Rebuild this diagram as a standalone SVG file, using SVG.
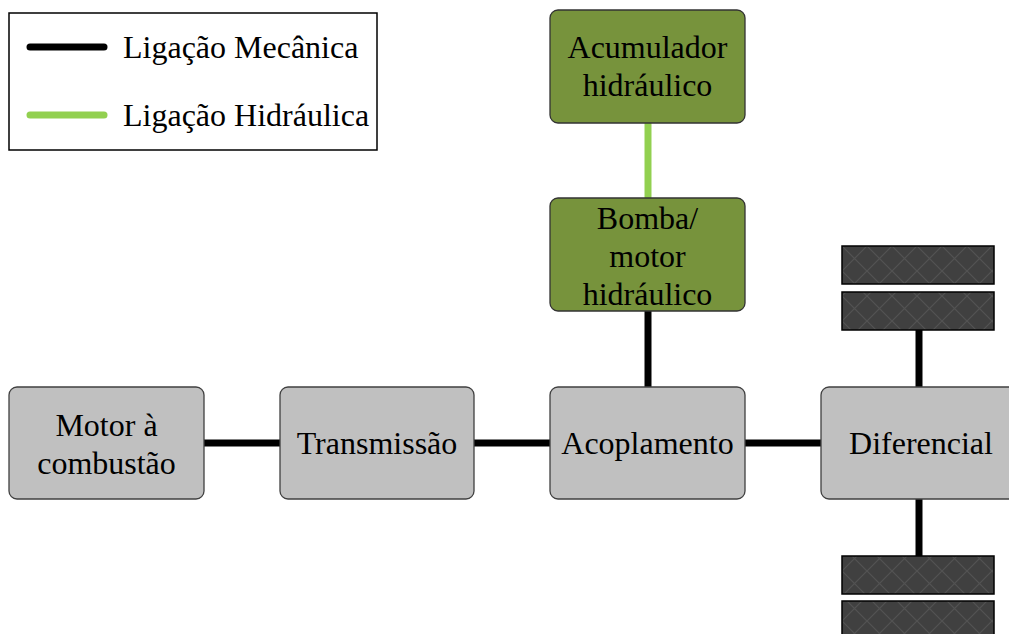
<svg xmlns="http://www.w3.org/2000/svg" width="1009" height="634" viewBox="0 0 1009 634">
<defs>
<pattern id="hatch" width="25" height="25" patternUnits="userSpaceOnUse" x="842" y="246">
<rect width="25" height="25" fill="#404040"/>
<path d="M0 0 L25 25 M25 0 L0 25" stroke="#525252" stroke-width="1.2"/>
</pattern>
</defs>
<style>
.box{fill:#C0C0C0;stroke:#404040;stroke-width:1.3}
.gbox{fill:#77933C;stroke:#333;stroke-width:1.3}
.t{font-family:"Liberation Serif","Times New Roman",serif;font-size:32px;fill:#000;text-anchor:middle}
.lt{font-family:"Liberation Serif","Times New Roman",serif;font-size:32px;fill:#000}
.mech{stroke:#000;stroke-width:7;fill:none}
.hyd{stroke:#92D050;stroke-width:7;fill:none}
.wheel{fill:url(#hatch);stroke:#000;stroke-width:1.5}
</style>
<g id="connectors">
<line class="mech" x1="204" y1="443" x2="280" y2="443"/>
<line class="mech" x1="474" y1="443" x2="550" y2="443"/>
<line class="mech" x1="745" y1="443" x2="821" y2="443"/>
<line class="mech" x1="648" y1="311" x2="648" y2="387"/>
<line class="hyd" x1="648" y1="123" x2="648" y2="198"/>
<line class="mech" x1="919" y1="330" x2="919" y2="387"/>
<line class="mech" x1="919" y1="499" x2="919" y2="556"/>
</g>
<g id="legend">
<rect x="9" y="13" width="368" height="137" fill="#fff" stroke="#000" stroke-width="1.5"/>
<line x1="30" y1="47" x2="104" y2="47" stroke="#000" stroke-width="7" stroke-linecap="round"/>
<line x1="30" y1="115" x2="104" y2="115" stroke="#92D050" stroke-width="7" stroke-linecap="round"/>
<text class="lt" x="123" y="58">Ligação Mecânica</text>
<text class="lt" x="123" y="126">Ligação Hidráulica</text>
</g>
<g id="motor">
<rect class="box" x="9" y="387" width="195" height="112" rx="8"/>
<text class="t" x="106.5" y="436">Motor à</text>
<text class="t" x="106.5" y="474">combustão</text>
</g>
<g id="transmissao">
<rect class="box" x="280" y="387" width="194" height="112" rx="8"/>
<text class="t" x="377" y="454">Transmissão</text>
</g>
<g id="acoplamento">
<rect class="box" x="550" y="387" width="195" height="112" rx="8"/>
<text class="t" x="647.5" y="454">Acoplamento</text>
</g>
<g id="diferencial">
<rect class="box" x="821" y="387" width="200" height="112" rx="8"/>
<text class="t" x="921" y="454">Diferencial</text>
</g>
<g id="acumulador">
<rect class="gbox" x="550" y="10" width="195" height="113" rx="8"/>
<text class="t" x="647.5" y="58">Acumulador</text>
<text class="t" x="647.5" y="96">hidráulico</text>
</g>
<g id="bomba">
<rect class="gbox" x="550" y="198" width="195" height="113" rx="8"/>
<text class="t" x="647.5" y="229">Bomba/</text>
<text class="t" x="647.5" y="267">motor</text>
<text class="t" x="647.5" y="305">hidráulico</text>
</g>
<g id="rodas-superior">
<rect class="wheel" x="842" y="246" width="152" height="38"/>
<rect class="wheel" x="842" y="292" width="152" height="38"/>
</g>
<g id="rodas-inferior">
<rect class="wheel" x="842" y="556" width="152" height="38"/>
<rect class="wheel" x="842" y="601" width="152" height="38"/>
</g>
</svg>
